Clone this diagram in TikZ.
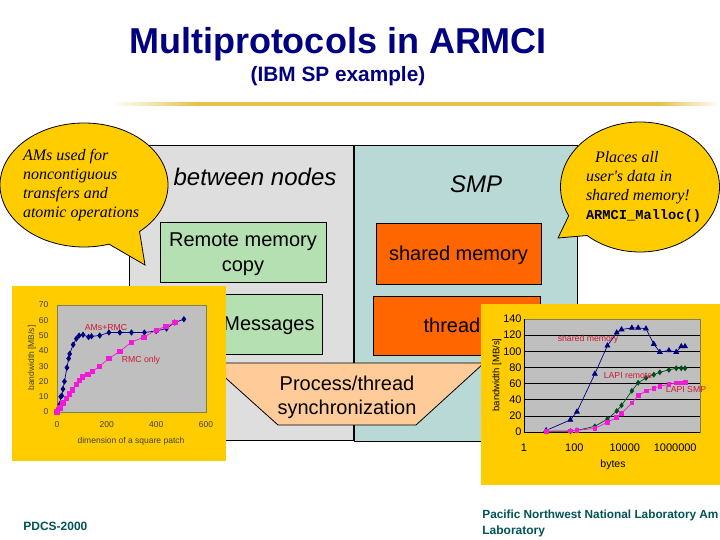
\documentclass[tikz,border=0pt]{standalone}
\usepackage{xcolor}
\usepackage{fontspec}
\setmainfont{Liberation Sans}
\newfontfamily\callfont{Liberation Serif}
\newfontfamily\codefont{Liberation Mono}
\usetikzlibrary{arrows,plotmarks,shapes,positioning}
\definecolor{titlenavy}{rgb}{0.0, 0.0, 0.5}
\definecolor{footteal}{rgb}{0.0, 0.33, 0.33}
\definecolor{slidegold}{rgb}{1.0, 0.8, 0.0}
\definecolor{rulegold}{rgb}{0.90, 0.76, 0.30}
\definecolor{leftgrey}{rgb}{0.87, 0.87, 0.87}
\definecolor{rightteal}{rgb}{0.72, 0.85, 0.84}
\definecolor{boxgreen}{rgb}{0.71, 0.88, 0.70}
\definecolor{boxorange}{rgb}{1.0, 0.4, 0.0}
\definecolor{boxpeach}{rgb}{1.0, 0.8, 0.6}
\definecolor{plotgrey}{rgb}{0.75, 0.75, 0.75}
\definecolor{plotedge}{rgb}{0.5, 0.5, 0.3}
\definecolor{labelred}{rgb}{0.8, 0.1, 0.2}
\definecolor{curvegreen}{rgb}{0.0, 0.3, 0.1}
\definecolor{curvepink}{rgb}{0.95, 0.1, 0.85}
\pgfdeclarehorizontalshading{rulefade}{100bp}{color(0bp)=(white); color(25bp)=(white); color(32bp)=(rulegold); color(70bp)=(rulegold); color(75bp)=(white); color(100bp)=(white)}

\begin{document}
\begin{tikzpicture}[x=1bp, y=-1bp, line width=0.8bp, node distance=72bp, on grid,
	panel/.style={draw, minimum height=295bp, minimum width=224bp},
	membox/.style={draw, minimum height=60bp, text depth=0pt, font=\fontsize{20bp}{25bp}\selectfont, align=center},
	bubble/.style={ellipse callout, draw, fill=slidegold, inner sep=0pt, align=left, font=\fontsize{16bp}{19bp}\callfont\itshape},
	chartbg/.style={fill=slidegold},
	plotbg/.style={fill=plotgrey, draw=plotedge},
	ticksmall/.style={font=\fontsize{8.5bp}{10bp}\selectfont, text=black!75},
	tickbig/.style={font=\fontsize{11bp}{12bp}\selectfont},
	curvelabel/.style={font=\fontsize{8.7bp}{10bp}\selectfont, text=labelred},
	curve/.style={line width=0.7bp, mark options={solid}}]

\useasboundingbox (0,0) rectangle (720,540);

\node[anchor=base, text=titlenavy, font=\fontsize{36bp}{40bp}\selectfont\bfseries]	(title) at (338,54) {Multiprotocols in ARMCI};
\node[anchor=base, text=titlenavy, font=\fontsize{20.8bp}{24bp}\selectfont\bfseries]	(subtitle) at (338,82) {(IBM SP example)};
\shade[shading=rulefade] (112,102.5) rectangle (720,105.5);

\node[panel, fill=leftgrey]		(between) at (241,292.5) {};
\node[panel, fill=rightteal, minimum width=223bp, minimum height=296bp] (smp) at (465.5,293) {};

\node[font=\fontsize{24bp}{28bp}\selectfont\itshape]	(betweenlab) at (255,177) {between nodes};
\node[font=\fontsize{24bp}{28bp}\selectfont\itshape]	(smplab) at (476,184) {SMP};

\node[membox, fill=boxgreen, minimum width=166bp]		(remote) at (243,252)	{Remote memory\\copy};
\node[membox, fill=boxgreen, minimum width=106bp]		(messages) [below=of remote, xshift=26bp]	{Messages};
\node[membox, fill=boxorange, minimum width=165bp, minimum height=61bp]	(shared) at (458.5,253.5)	{shared memory};
\node[membox, fill=boxorange, minimum width=167bp, minimum height=59bp]	(threads) [below=of shared, xshift=-2bp]	{thread\hspace{9bp}};

\draw[fill=boxpeach] (209,363) -- (484,363) -- (416,425) -- (278,425) -- cycle;
\node[font=\fontsize{20bp}{24bp}\selectfont, align=center]	(sync) at (347,397) {Process/thread\\synchronization};

\fill[chartbg] (12,286) rectangle (226,461);
\draw[plotbg] (57,305) rectangle (206,412);
\begin{scope}[shift={(57,412)}, x=0.2483bp, y=1.529bp]
\foreach \v in {0,10,...,70}
	\node[ticksmall, anchor=east] (ly\v) at (-20,\v) {\v};
\foreach \v in {0,200,400,600}
	\node[ticksmall] (lx\v) at (\v,-8) {\v};
\draw[curve, draw=titlenavy, mark=diamond*, mark size=2.6bp, mark options={fill=titlenavy}] plot coordinates {
	(0,0.4) (7,2.6) (11,5) (15,10) (19,10.6) (24,15) (30,20) (40,29) (47,35) (51,38) (65,44) (78,48) (89,50) (105,50.5) (127,49) (139,49.5) (172,50) (209,52) (253,52) (300,52) (352,52) (399,53) (441,54.6) (474,58.5) (511,60.7)};
\draw[curve, draw=curvepink, mark=square*, mark size=2.2bp, mark options={fill=curvepink}] plot coordinates {
	(0,0) (11,2.6) (24,6) (38,9) (49,12) (62,14.6) (78,18) (89,20.6) (102,23) (125,24.6) (143,26.5) (171,30) (209,35) (253,39.6) (299,45.6) (350,49) (399,53.5) (438,56) (474,58.5)};
\end{scope}
\node[curvelabel]	(amsrmc) at (106,328) {AMs+RMC};
\node[curvelabel]	(rmconly) at (141,360) {RMC only};
\node[ticksmall, rotate=90]	(leftylab) at (32,358) {bandwidth [MB/s]};
\node[ticksmall]	(leftxlab) at (131,441) {dimension of a square patch};

\fill[chartbg] (481,304) rectangle (720,485);
\draw[plotbg] (524,319) rectangle (700,432);
\begin{scope}[shift={(524,432)}, x=25.2bp, y=0.807bp]
\foreach \v in {20,40,...,120}
	\draw[line width=0.7bp] (0,\v) -- (6.984,\v);
\draw[line width=0.9bp] (0,0) -- (0,140);
\draw[line width=0.9bp] (0,0) -- (6.984,0);
\foreach \v in {0,20,...,140}
	\node[tickbig, anchor=east, inner sep=2bp] (ry\v) at (0,\v) {\v};
\foreach \p/\t in {0/1,2/100,4/10000,6/1000000}
	\node[tickbig] (rx\t) at (\p,-19) {\t};
\draw[curve, draw=titlenavy, mark=triangle*, mark size=2.8bp, mark options={fill=titlenavy}] plot coordinates {
	(0.88,2) (1.84,15) (2.1,25) (2.81,72) (3.31,107) (3.68,123) (3.87,127) (4.28,129) (4.53,129) (4.84,128) (5.15,109) (5.39,99) (5.75,101) (6.04,99) (6.24,106) (6.39,106)};
\draw[curve, draw=curvegreen, mark=diamond*, mark size=2.4bp, mark options={fill=curvegreen}] plot coordinates {
	(0.88,1) (1.84,1) (2.1,2) (2.81,7) (3.31,16) (3.68,26) (3.87,33) (4.28,51) (4.53,61) (4.84,67) (5.15,71) (5.39,74) (5.75,77) (6.04,79) (6.24,79) (6.39,79)};
\draw[curve, draw=curvepink, mark=square*, mark size=1.9bp, mark options={fill=curvepink}] plot coordinates {
	(0.88,1) (1.84,1.5) (2.1,2) (2.81,4.5) (3.31,12) (3.68,18) (3.87,23) (4.28,36) (4.53,45) (4.84,51) (5.15,54) (5.39,57) (5.75,59) (6.04,61) (6.24,61) (6.39,62)};
\end{scope}
\node[curvelabel]	(sharedlab) at (588,339) {shared memory};
\node[curvelabel]	(lapiremote) at (628,376) {LAPI remote};
\node[curvelabel]	(lapismp) at (686,390) {LAPI SMP};
\node[rotate=90, font=\fontsize{9.5bp}{12bp}\selectfont]	(rightylab) at (497,375) {bandwidth [MB/s]};
\node[font=\fontsize{10.5bp}{14bp}\selectfont]	(rightxlab) at (613,465) {bytes};

\node[bubble, minimum width=168bp, minimum height=124bp, callout absolute pointer={(145,265)}, callout pointer arc=24]	(leftcall) at (84,185)
	{\hspace*{-6bp}AMs used for\\\hspace*{-6bp}noncontiguous\\\hspace*{-6bp}transfers and\\\hspace*{-6bp}atomic operations};
\node[bubble, minimum width=159bp, minimum height=130bp, callout absolute pointer={(558,238)}, callout pointer arc=22]	(rightcall) at (640,187)
	{\hspace*{9bp}Places all\\user's data in\\shared memory!\\\makebox[108bp][l]{\codefont\upshape\bfseries\fontsize{13.7bp}{17bp}\selectfont ARMCI\_Malloc()}};

\node[anchor=base west, inner sep=0pt, text=footteal, font=\fontsize{12bp}{14bp}\selectfont\bfseries]	(pdcs) at (23,530) {PDCS-2000};
\node[anchor=base west, inner sep=0pt, text=footteal, font=\fontsize{11.8bp}{16bp}\selectfont\bfseries]	(pnnl) at (482,518) {Pacific Northwest National Laboratory Am};
\node[anchor=base west, inner sep=0pt, text=footteal, font=\fontsize{12bp}{16bp}\selectfont\bfseries]	(lab) at (482,534) {Laboratory};
\end{tikzpicture}
\end{document}
